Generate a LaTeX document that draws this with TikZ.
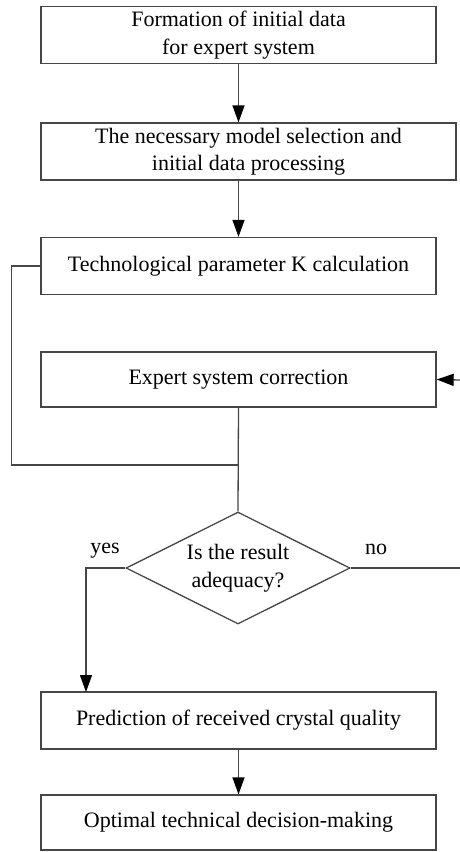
\documentclass[tikz,border=0pt]{standalone}
\usepackage{fontspec}
\setmainfont{Liberation Serif}
\usepackage{tikz}
\usetikzlibrary{arrows.meta, positioning, shapes.geometric}
\usepackage{xcolor}
\definecolor{linegray}{RGB}{70, 70, 70}

\begin{document}
\begin{tikzpicture}[x=1pt, y=-1pt, >={Triangle[length=17pt, width=12pt, color=black]}, line width=1.3pt,
    font=\fontsize{22}{27.5}\selectfont,
    procbox/.style={draw=linegray, minimum width=395pt, minimum height=57pt, align=center, inner sep=0pt},
    decision/.style={draw=linegray, diamond, aspect=2, minimum width=224pt, minimum height=112pt, inner sep=0pt, align=center}]
      \useasboundingbox (0,0) rectangle (460,852);
      \node[procbox] (form) at (238.5,35) {Formation of initial data\\for expert system};
      \node[procbox, minimum width=415pt] (model) at (248.5,151.5) {The necessary model selection and\\initial data processing};
      \node[procbox] (calc) at (238.5,266) {Technological parameter K calculation};
      \node[procbox, minimum height=55pt] (corr) at (238.5,379.5) {Expert system correction};
      \node[decision] (dec) at (238,568) {Is the result\\adequacy?};
      \node[procbox] (pred) at (238.5,720.5) {Prediction of received crystal quality};
      \node[procbox, minimum height=55pt] (opt) at (238.5,822.5) {Optimal technical decision-making};
      \node (yes) at (105,551) {yes};
      \node (no) at (376,549) {no};
      \coordinate (join) at (238,465);
      \coordinate (yesend) at (86,692);
      \coordinate (noend) at (460,568);
      \coordinate (fbin) at (460,380);
      \draw[->, linegray] (form.south) -- (form.south |- model.north);
      \draw[->, linegray] (model.south -| form.south) -- (calc.north);
      \draw[linegray] (calc.west) -- ++(-29,0) |- (join);
      \draw[linegray] (corr.south) -- (dec.north);
      \draw[->, linegray] (dec.west) -| (yesend);
      \draw[linegray] (dec.east) -- (noend);
      \draw[->, linegray] (fbin) -- (corr.east);
      \draw[->, linegray] (pred.south) -- (opt.north);
    \end{tikzpicture}
\end{document}
